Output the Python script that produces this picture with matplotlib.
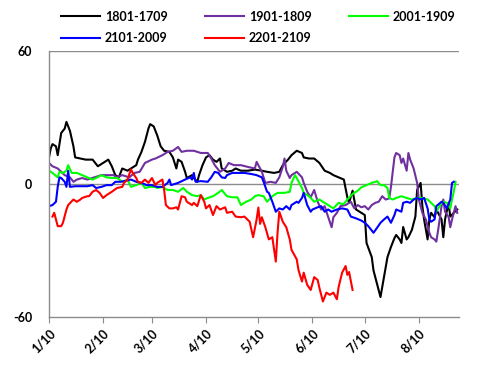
"""
Spread comparison chart, five series, Jan to Sep.
"""
import pandas as pd
import matplotlib
matplotlib.use('Agg')
import matplotlib.pyplot as plt

# days counted from 10 Jan
black_days = [0, 1, 2, 4, 5, 7, 9, 10, 12, 14, 15, 21, 25, 28, 31, 34, 36, 38, 40, 42, 45, 47, 50, 51, 53, 55,
              57, 58, 60, 62, 64, 66, 69, 71, 73, 74, 76, 78, 79, 82, 83, 85, 86, 88, 90, 92, 94, 96, 98, 99,
              102, 105, 107, 110, 114, 118, 122, 125, 129, 132, 134, 137, 139, 142, 145, 146, 149, 152, 155,
              158, 161, 163, 166, 169, 171, 172, 174, 176, 178, 181, 182, 185, 186, 188, 190, 191, 193, 194,
              196, 198, 199, 201, 202, 203, 205, 206, 208, 210, 211, 213, 214, 215, 217, 218, 219, 221, 222,
              225, 226, 227, 229, 230, 232, 234]
black_vals = [12, 16, 18, 17, 13, 23, 25, 28, 24, 17, 12, 11, 11, 8, 9.5, 11, 8, 4, 3, 7, 6, 7, 8.5, 11, 14.5, 19,
              25, 27, 26, 22, 17, 15, 14.5, 12, 7, 11, 10, 5.5, 2.7, 4, 2.7, 1, 4, 8.5, 12, 13, 11, 10, 11.5, 7,
              5.5, 6, 7, 6, 6, 6.5, 6, 5.5, 5, 5.5, 8.5, 11, 13, 15, 14, 12, 11.5, 11.5, 9.5,
              6, 5, 4, 3, 2, -6, -8.5, -3, -11.5, -12.5, -14, -26.6, -33, -39, -45, -51, -46.5, -37.5, -33,
              -28.4, -24.4, -23, -25, -26.6, -19.4, -25, -24, -20.7, -14.7, -2.7, 0.5, -10, -16, -25, -16, -13, -15, -11.5,
              -16, -24, -16, -8.5, -14.7, -13, -11.5]

purple_days = [0, 2, 5, 7, 9, 12, 14, 16, 19, 22, 26, 30, 34, 37, 39, 42, 46, 49, 52, 55, 59, 61, 65, 68, 71, 74,
               76, 79, 83, 87, 91, 93, 95, 98, 101, 103, 106, 110, 114, 118, 119, 122, 124, 127, 130, 132, 134,
               135, 136, 138, 139, 142, 145, 146, 148, 150, 152, 154, 156, 158, 159, 162, 163, 165, 167, 170,
               173, 175, 177, 179, 181, 183, 185, 187, 189, 191, 193, 195, 196, 198, 199, 201, 202, 203, 205,
               206, 207, 209, 211, 212, 214, 216, 218, 219, 221, 222, 223, 225, 226, 227, 229, 230, 231, 233, 234]
purple_vals = [9.5, 8, 7, 5.5, 4, 3, 1, 2, 2.7, 2, 3, 4, 4, 4, 3, 4, 3, 5, 5.5, 9.5, 11, 11.5, 13, 14.5, 15, 16.7,
               14.5, 15, 15, 14, 14, 11.5, 8.5, 5.5, 7, 9.5, 8.5, 8.5, 7.7, 7, 10, 5.5, 0.5, 1, 0.5, 3, 7.7,
               11.5, 6, 2.7, 4, 5.5, 3, 0.5, -3.5, -6, -2.7, -8, -11.5, -10, -12.5, -19.5, -15, -13, -10, -9.5,
               -8, -11, -9.5, -10.5, -10, -11.5, -9.5, -8.5, -8, -5.5, -7, -6.5, -1.3, 12, 14, 13, 9.5, 11.5, 6,
               14, 11, 7, 0.5, -7, -13, -16, -22, -24, -25, -26, -21, -10, -7, -12.5, -14.7, -19.5, -16, -10, -13]

green_days = [0, 2, 5, 6, 8, 10, 11, 13, 16, 19, 22, 25, 27, 30, 33, 36, 39, 42, 45, 47, 50, 53, 55, 58, 61, 62,
              65, 68, 71, 74, 77, 79, 82, 85, 87, 89, 91, 94, 97, 99, 102, 105, 108, 110, 113, 116, 118, 120,
              123, 125, 128, 131, 135, 138, 139, 141, 142, 145, 146, 149, 152, 155, 158, 161, 163, 166, 168,
              169, 171, 174, 177, 179, 182, 185, 187, 188, 190, 192, 194, 195, 197, 199, 202, 205, 208, 211,
              214, 217, 219, 221, 222, 225, 226, 228, 230, 231, 232, 233]
green_vals = [6, 5, 3, 5.5, 5, 6, 8.5, 5, 5, 4, 3, 2, 2.7, 4, 3, 2.7, 2.7, 1, 2, -1.3, -0.5, 0.5, -1.8, -1.3, -1.3, -1.8,
              -1.3, -2.7, -2.7, -3.5, -1.8, -3.5, -5, -5.5, -5, -7, -6.3, -5.5, -4, -2.7, -5.5, -6, -6, -9.5, -8, -7, -5.5, -5,
              -5.5, -8, -5.5, -4, -4, -3.5, 0.5, 4, 2.7, -1.8, -4, -5.5, -8, -7, -8.5, -10, -11, -8.5, -9,
              -9, -7, -4.5, -3, -1.5, -0.5, 0.5, 1, 1.3, -0.5, -0.5, -1.8, -6.3, -7, -6.3, -5.5, -6.3, -7, -6.3,
              -6.3, -7, -8.5, -10, -12.5, -8.5, -8, -8.5, -11, -7, -3.5, 1]

blue_days = [0, 2, 4, 5, 6, 7, 9, 10, 11, 12, 15, 19, 22, 25, 27, 30, 33, 36, 38, 41, 43, 47, 50, 53, 56, 59, 62,
             65, 68, 69, 70, 74, 78, 81, 82, 83, 84, 87, 91, 93, 95, 97, 99, 101, 102, 105, 108, 112, 116, 119,
             122, 123, 125, 126, 128, 130, 132, 134, 136, 138, 139, 142, 143, 145, 146, 148, 150, 151, 154, 156,
             158, 160, 162, 165, 168, 171, 173, 176, 179, 181, 183, 186, 188, 190, 192, 194, 196, 198, 199, 202,
             203, 205, 207, 209, 211, 213, 215, 217, 218, 219, 221, 222, 225, 226, 228, 230, 231, 232]
blue_vals = [-10, -9.5, -8, -1.3, 3, 2.7, 1, -1.3, 6, -1.3, -1, -1, -1, -0.5, -1.8, -1.3, -0.5, -0.5, 1, 1, 1.3, 2, 1, 0.5, -0.5, -0.5, -1.3,
             -1.3, 0.5, 2, -0.5, 0.5, 2, 3, 2, 5, 1, 1.3, 1, 3, 5.5, 5, 3, 2.7, 4, 5, 5, 5, 4.5, 4,
             3, 1, -3.5, -4, -8, -12.5, -11, -11.5, -10, -11.5, -9.5, -8, -8.5, -6.3, -4, -9.5, -12.5, -11.5, -10.5, -10,
             -12.5, -11.5, -12.5, -11.5, -11, -11.5, -14.7, -15.5, -16.5, -17.5, -19, -22, -19.8, -17.5, -16, -14.7, -17.5, -14, -11.5, -12.5,
             -8.5, -8, -8.5, -7, -6.3, -7, -6.3, -11, -16, -17, -16, -10, -8, -8.5, -11, -7, 0.5, 1]

red_days = [2, 3, 4, 5, 7, 8, 10, 11, 14, 16, 18, 19, 22, 23, 25, 27, 29, 31, 33, 36, 39, 42, 43, 45, 47, 48, 50,
            51, 53, 55, 57, 59, 61, 62, 65, 66, 67, 69, 71, 73, 74, 76, 78, 79, 82, 83, 85, 87, 89, 90, 92, 94,
            96, 98, 101, 102, 105, 107, 110, 112, 115, 117, 119, 120, 121, 122, 124, 126, 128, 130, 131, 132,
            134, 136, 138, 139, 142, 143, 145, 146, 148, 150, 152, 154, 155, 157, 159, 161, 163, 165, 166, 168,
            170, 171, 172, 174]
red_vals = [-14.7, -13, -16, -19, -19, -17.5, -11.5, -9.5, -7, -8, -7, -6.3, -5.5, -5.5, -3.5, -2.7, -4, -6.3, -5, -3.5, -1.8, -1.3, 0.5, 2, 6.6, 5, 2.7,
            1, 0.5, 2, 0.5, 2.7, -0.5, 0.5, 2, -2.7, -9.5, -11, -11, -10.5, -11.5, -5.5, -6, -8, -9.5, -8.5, -10, -5, -8, -11, -9.5, -14,
            -10, -11.5, -10.5, -13, -12.5, -14.7, -15, -14.7, -17, -24, -16, -10.6, -18, -15, -19.5, -25, -24, -35, -22, -12.5,
            -17, -19.5, -25, -29.7, -34, -38.8, -44, -40, -45.5, -47.8, -42, -43.3, -46.9, -53, -49, -50, -49, -52, -46.5, -40,
            -37, -41, -39.7, -47.8]

series = [
    ('1801-1709', black_days, black_vals, 'black'),
    ('1901-1809', purple_days, purple_vals, '#7030A0'),
    ('2001-1909', green_days, green_vals, '#00FF00'),
    ('2101-2009', blue_days, blue_vals, '#0000FF'),
    ('2201-2109', red_days, red_vals, '#FF0000'),
]

start = pd.Timestamp('2023-01-10')
tick_dates = ['2023-01-10', '2023-02-10', '2023-03-10', '2023-04-10',
              '2023-05-10', '2023-06-10', '2023-07-10', '2023-08-10']
tick_labels = ['1/10', '2/10', '3/10', '4/10', '5/10', '6/10', '7/10', '8/10']
y_ticks = [-60, 0, 60]

plt.rcParams['font.family'] = ['Lato', 'DejaVu Sans']

fig = plt.figure(figsize=(4.87, 3.69), dpi=100)
ax = fig.add_axes([0.1006, 0.1409, 0.8419, 0.7209])

lines = []
for name, days, vals, color in series:
    dates = start + pd.to_timedelta(days, unit='D')
    ln, = ax.plot(dates, vals, color=color, linewidth=1.5, label=name)
    lines.append(ln)

ax.set_ylim(-60, 60)
ax.set_xlim(start, start + pd.Timedelta(days=235))
ax.set_yticks(y_ticks)
ax.set_yticklabels([str(v) for v in y_ticks], fontsize=9, fontweight='bold')
ax.set_xticks(pd.to_datetime(tick_dates))
ax.set_xticklabels(tick_labels, fontsize=9, fontweight='bold',
                   rotation=45, ha='right', rotation_mode='anchor')

# Excel-like: gridlines at 60 and 0, axis at bottom
for v in [0, 60]:
    ax.axhline(v, color='#8c8c8c', linewidth=1.0, zorder=0)
for side in ['top', 'right']:
    ax.spines[side].set_visible(False)
for side in ['left', 'bottom']:
    ax.spines[side].set_color('#8c8c8c')
    ax.spines[side].set_linewidth(1.0)
ax.tick_params(axis='x', direction='out', length=4, color='#8c8c8c', pad=3)
ax.tick_params(axis='y', length=0, pad=12)

# legend filled row by row like the original
order = [0, 3, 1, 4, 2]
fig.legend([lines[i] for i in order], [series[i][0] for i in order],
           loc='upper left', bbox_to_anchor=(0.115, 0.985), ncol=3, frameon=False,
           prop={'size': 9, 'weight': 'bold'}, handlelength=3.1, handletextpad=0.4,
           columnspacing=3.0, labelspacing=0.75, borderaxespad=0)

fig.savefig('out.png', dpi=100)
